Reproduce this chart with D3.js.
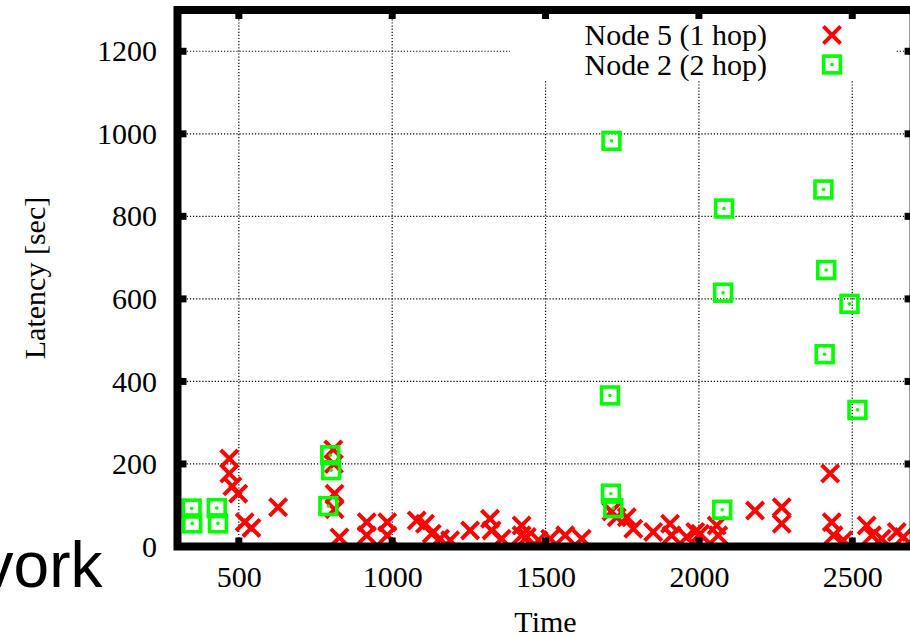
<!DOCTYPE html>
<html>
<head>
<meta charset="utf-8">
<script src="https://cdn.jsdelivr.net/npm/d3@7"></script>
<style>
body { margin: 0; background: #fff; }
svg { display: block; }
</style>
</head>
<body>
<div id="chart"></div>
<script>
// Node 5 (1 hop) samples
var node5Time = [469, 469, 479, 498, 519, 541, 628, 808, 810, 812, 812, 828, 917, 917, 984, 984,
	1080, 1107, 1129, 1156, 1189, 1254, 1319, 1324, 1357, 1422, 1422, 1439, 1477, 1515, 1564, 1618,
	1715, 1732, 1765, 1786, 1851, 1906, 1911, 1960, 1988, 2004, 2058, 2063, 2183, 2270, 2270,
	2428, 2433, 2439, 2471, 2547, 2564, 2596, 2645, 2667];
var node5Latency = [213, 177, 146, 128, 59, 45, 95, 235, 200, 128, 90, 22, 59, 27, 59, 27,
	63, 55, 31, 19, 15, 39, 67, 39, 19, 51, 27, 23, 15, 19, 27, 19,
	85, 71, 71, 43, 35, 55, 27, 23, 35, 31, 51, 27, 87, 95, 55,
	177, 59, 27, 15, 51, 27, 19, 35, 23];

// Node 2 (2 hop) samples
var node2Time = [346, 348, 428, 432, 792, 798, 801, 1710, 1713, 1715, 1721, 2076, 2079, 2082,
	2406, 2410, 2415, 2491, 2517];
var node2Latency = [92, 56, 93, 56, 98, 221, 185, 366, 128, 983, 93, 89, 615, 819,
	865, 466, 670, 588, 331];

var xTicks = [500, 1000, 1500, 2000, 2500];
var yTicks = [0, 200, 400, 600, 800, 1000, 1200];
var seriesNames = ["Node 5 (1 hop)", "Node 2 (2 hop)"];

var width = 910, height = 637;
var serif = "'Liberation Serif', 'Times New Roman', serif";

var svg = d3.select("#chart").append("svg")
	.attr("width", width)
	.attr("height", height);

svg.append("rect").attr("width", width).attr("height", height).attr("fill", "#fff");

var x = d3.scaleLinear().domain([300, 2700]).range([177.5, 913.6]);
var y = d3.scaleLinear().domain([0, 1300]).range([546.5, 10]);

// dotted grid
var grid = svg.append("g")
	.attr("stroke", "#000")
	.attr("stroke-width", 1.2)
	.attr("stroke-dasharray", "1.2,1.9");

grid.selectAll(".gx")
	.data(xTicks)
	.enter().append("line")
	.attr("x1", d => x(d)).attr("x2", d => x(d))
	.attr("y1", y(1300)).attr("y2", y(0));

grid.selectAll(".gy")
	.data(yTicks.slice(1))
	.enter().append("line")
	.attr("x1", x(300)).attr("x2", x(2700))
	.attr("y1", d => y(d)).attr("y2", d => y(d));

// key area clears the grid
svg.append("rect")
	.attr("x", 510).attr("y", 14)
	.attr("width", 385).attr("height", 67)
	.attr("fill", "#fff");

var crossPath = "M-8.6,-8.6L8.6,8.6M-8.6,8.6L8.6,-8.6";

function drawCross(sel) {
	sel.append("path")
		.attr("d", crossPath)
		.attr("fill", "none")
		.attr("stroke", "#ff0000")
		.attr("stroke-width", 4);
}

function drawBox(sel) {
	sel.append("rect")
		.attr("x", -8.4).attr("y", -8.4)
		.attr("width", 16.8).attr("height", 16.8)
		.attr("fill", "none")
		.attr("stroke", "#00ff00")
		.attr("stroke-width", 3.6);
	sel.append("circle")
		.attr("r", 1.8)
		.attr("fill", "#00ff00");
}

var node5 = node5Time.map((t, i) => ({t: t, v: node5Latency[i]}));
var node2 = node2Time.map((t, i) => ({t: t, v: node2Latency[i]}));

svg.append("g")
	.selectAll("g")
	.data(node5)
	.enter().append("g")
	.attr("transform", d => "translate(" + x(d.t) + "," + y(d.v) + ")")
	.call(drawCross);

svg.append("g")
	.selectAll("g")
	.data(node2)
	.enter().append("g")
	.attr("transform", d => "translate(" + x(d.t) + "," + y(d.v) + ")")
	.call(drawBox);

// border with inward ticks on all four sides
var ticks = svg.append("g").attr("stroke", "#000").attr("stroke-width", 7);
xTicks.forEach(function(d) {
	ticks.append("line").attr("x1", x(d)).attr("x2", x(d)).attr("y1", y(0)).attr("y2", y(0) - 9);
	ticks.append("line").attr("x1", x(d)).attr("x2", x(d)).attr("y1", y(1300)).attr("y2", y(1300) + 9);
});
yTicks.forEach(function(d) {
	ticks.append("line").attr("y1", y(d)).attr("y2", y(d)).attr("x1", x(300)).attr("x2", x(300) + 9);
	ticks.append("line").attr("y1", y(d)).attr("y2", y(d)).attr("x1", x(2700)).attr("x2", x(2700) - 9);
});

svg.append("rect")
	.attr("x", x(300)).attr("y", y(1300))
	.attr("width", x(2700) - x(300))
	.attr("height", y(0) - y(1300))
	.attr("fill", "none")
	.attr("stroke", "#000")
	.attr("stroke-width", 8);

// tick labels
var xAxis = svg.append("g")
	.attr("transform", "translate(0," + y(0) + ")")
	.call(d3.axisBottom(x).tickValues(xTicks).tickFormat(d3.format("d")).tickSize(0).tickPadding(19));
var yAxis = svg.append("g")
	.attr("transform", "translate(" + x(300) + ",0)")
	.call(d3.axisLeft(y).tickValues(yTicks).tickFormat(d3.format("d")).tickSize(0).tickPadding(20.5));

[xAxis, yAxis].forEach(function(a) {
	a.attr("font-family", serif).attr("font-size", 30);
	a.select(".domain").remove();
	a.selectAll("text").attr("fill", "#000");
});

svg.append("text")
	.attr("x", 545.5).attr("y", 632)
	.attr("text-anchor", "middle")
	.attr("font-family", serif).attr("font-size", 30)
	.text("Time");

svg.append("text")
	.attr("transform", "translate(45,278) rotate(-90)")
	.attr("text-anchor", "middle")
	.attr("font-family", serif).attr("font-size", 30)
	.text("Latency [sec]");

// key
var key = svg.append("g");
var keyRows = [35, 64.5];
seriesNames.forEach(function(name, i) {
	key.append("text")
		.attr("x", 767).attr("y", keyRows[i] + 10)
		.attr("text-anchor", "end")
		.attr("font-family", serif).attr("font-size", 30)
		.text(name);
	var g = key.append("g").attr("transform", "translate(832," + keyRows[i] + ")");
	if (i === 0) drawCross(g); else drawBox(g);
});

// fragment of slide text at left
svg.append("text")
	.attr("x", 102.5).attr("y", 586.5)
	.attr("text-anchor", "end")
	.attr("font-family", "'Liberation Sans', Arial, sans-serif")
	.attr("font-size", 64)
	.text("vork");
</script>
</body>
</html>
